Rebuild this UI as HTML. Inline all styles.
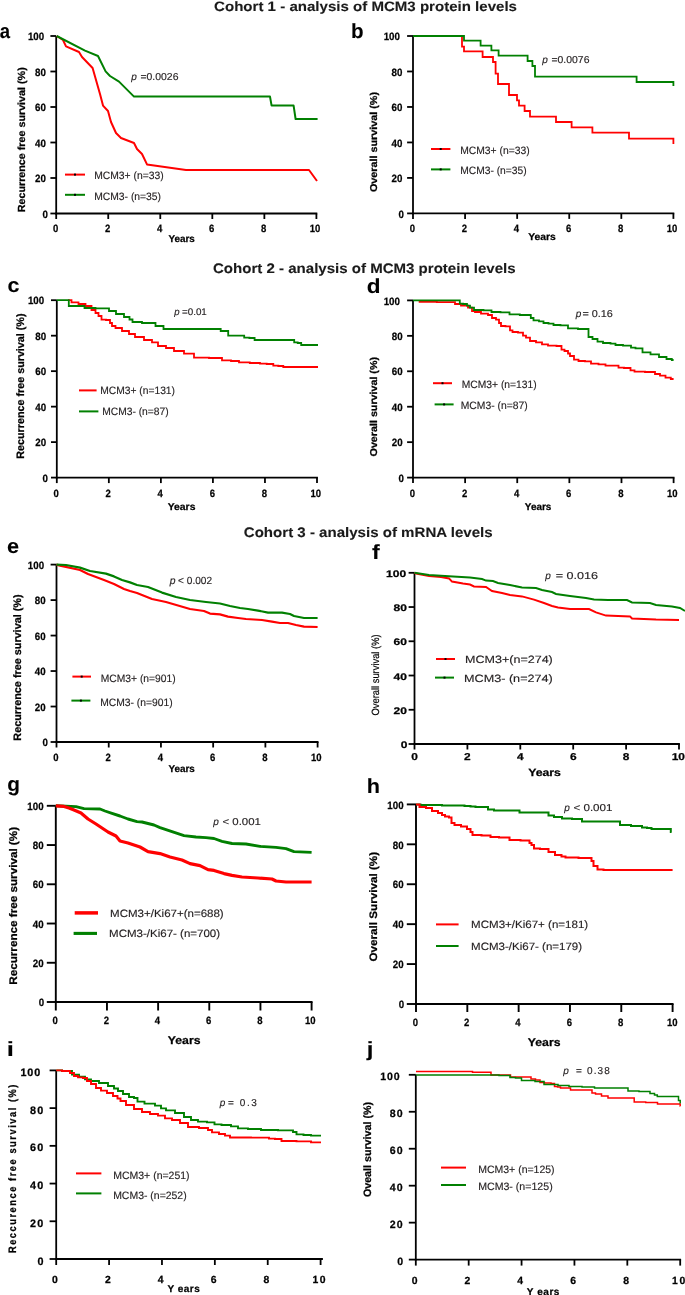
<!DOCTYPE html>
<html><head><meta charset="utf-8"><title>Figure</title>
<style>
html,body{margin:0;padding:0;background:#fff;}
svg{display:block;}
text{font-family:"Liberation Sans",sans-serif;text-rendering:geometricPrecision;}
.t{opacity:0.999;}
</style></head>
<body>
<svg width="685" height="1295" viewBox="0 0 685 1295">
<rect width="685" height="1295" fill="#fff"/>
<g class="t">
<text x="214.10" y="10.80" font-size="13.6" style="font-weight:bold;stroke:#1a1a1a;stroke-width:0.12px;" fill="#1a1a1a" textLength="302.91" lengthAdjust="spacingAndGlyphs">Cohort 1 - analysis of MCM3 protein levels</text>
<text x="213.00" y="273.00" font-size="13.8" style="font-weight:bold;stroke:#1a1a1a;stroke-width:0.12px;" fill="#1a1a1a" textLength="302.61" lengthAdjust="spacingAndGlyphs">Cohort 2 - analysis of MCM3 protein levels</text>
<text x="243.80" y="536.60" font-size="13.8" style="font-weight:bold;stroke:#1a1a1a;stroke-width:0.12px;" fill="#1a1a1a" textLength="248.85" lengthAdjust="spacingAndGlyphs">Cohort 3 - analysis of mRNA levels</text>
<text x="-0.26" y="37.90" font-size="20.5" style="font-weight:bold;stroke:#000;stroke-width:0.1px;" fill="#000" textLength="10.29" lengthAdjust="spacingAndGlyphs">a</text>
<text x="350.96" y="38.00" font-size="20.5" style="font-weight:bold;stroke:#000;stroke-width:0.1px;" fill="#000" textLength="12.58" lengthAdjust="spacingAndGlyphs">b</text>
<text x="7.44" y="291.70" font-size="20.5" style="font-weight:bold;stroke:#000;stroke-width:0.1px;" fill="#000" textLength="11.93" lengthAdjust="spacingAndGlyphs">c</text>
<text x="366.80" y="292.70" font-size="20.5" style="font-weight:bold;stroke:#000;stroke-width:0.1px;" fill="#000" textLength="13.79" lengthAdjust="spacingAndGlyphs">d</text>
<text x="7.03" y="553.30" font-size="20.5" style="font-weight:bold;stroke:#000;stroke-width:0.1px;" fill="#000" textLength="12.05" lengthAdjust="spacingAndGlyphs">e</text>
<text x="371.95" y="558.70" font-size="20.5" style="font-weight:bold;stroke:#000;stroke-width:0.1px;" fill="#000" textLength="7.70" lengthAdjust="spacingAndGlyphs">f</text>
<text x="7.37" y="791.00" font-size="20.5" style="font-weight:bold;stroke:#000;stroke-width:0.1px;" fill="#000" textLength="12.70" lengthAdjust="spacingAndGlyphs">g</text>
<text x="366.78" y="793.10" font-size="20.5" style="font-weight:bold;stroke:#000;stroke-width:0.1px;" fill="#000" textLength="13.24" lengthAdjust="spacingAndGlyphs">h</text>
<text x="6.80" y="1056.10" font-size="20.5" style="font-weight:bold;stroke:#000;stroke-width:0.1px;" fill="#000" textLength="7.14" lengthAdjust="spacingAndGlyphs">i</text>
<text x="366.66" y="1056.00" font-size="20.5" style="font-weight:bold;stroke:#000;stroke-width:0.1px;" fill="#000" textLength="6.67" lengthAdjust="spacingAndGlyphs">j</text>
<line x1="56.20" y1="36.00" x2="56.20" y2="214.40" stroke="#000" stroke-width="1.8" stroke-linecap="butt"/>
<line x1="55.30" y1="213.50" x2="317.30" y2="213.50" stroke="#000" stroke-width="1.8" stroke-linecap="butt"/>
<line x1="50.40" y1="213.50" x2="56.20" y2="213.50" stroke="#000" stroke-width="1.8" stroke-linecap="butt"/>
<line x1="50.40" y1="178.00" x2="56.20" y2="178.00" stroke="#000" stroke-width="1.8" stroke-linecap="butt"/>
<line x1="50.40" y1="142.50" x2="56.20" y2="142.50" stroke="#000" stroke-width="1.8" stroke-linecap="butt"/>
<line x1="50.40" y1="107.00" x2="56.20" y2="107.00" stroke="#000" stroke-width="1.8" stroke-linecap="butt"/>
<line x1="50.40" y1="71.50" x2="56.20" y2="71.50" stroke="#000" stroke-width="1.8" stroke-linecap="butt"/>
<line x1="50.40" y1="36.00" x2="56.20" y2="36.00" stroke="#000" stroke-width="1.8" stroke-linecap="butt"/>
<line x1="56.20" y1="213.50" x2="56.20" y2="219.00" stroke="#000" stroke-width="1.8" stroke-linecap="butt"/>
<line x1="108.24" y1="213.50" x2="108.24" y2="219.00" stroke="#000" stroke-width="1.8" stroke-linecap="butt"/>
<line x1="160.28" y1="213.50" x2="160.28" y2="219.00" stroke="#000" stroke-width="1.8" stroke-linecap="butt"/>
<line x1="212.32" y1="213.50" x2="212.32" y2="219.00" stroke="#000" stroke-width="1.8" stroke-linecap="butt"/>
<line x1="264.36" y1="213.50" x2="264.36" y2="219.00" stroke="#000" stroke-width="1.8" stroke-linecap="butt"/>
<line x1="316.40" y1="213.50" x2="316.40" y2="219.00" stroke="#000" stroke-width="1.8" stroke-linecap="butt"/>
<text x="42.38" y="217.70" font-size="10.6" style="font-weight:bold;stroke:#000;stroke-width:0.25px;" fill="#000" textLength="5.42" lengthAdjust="spacingAndGlyphs">0</text>
<text x="35.07" y="182.20" font-size="10.6" style="font-weight:bold;stroke:#000;stroke-width:0.25px;" fill="#000" textLength="10.85" lengthAdjust="spacingAndGlyphs">20</text>
<text x="35.07" y="146.70" font-size="10.6" style="font-weight:bold;stroke:#000;stroke-width:0.25px;" fill="#000" textLength="10.85" lengthAdjust="spacingAndGlyphs">40</text>
<text x="35.07" y="111.20" font-size="10.6" style="font-weight:bold;stroke:#000;stroke-width:0.25px;" fill="#000" textLength="10.85" lengthAdjust="spacingAndGlyphs">60</text>
<text x="35.07" y="75.70" font-size="10.6" style="font-weight:bold;stroke:#000;stroke-width:0.25px;" fill="#000" textLength="10.85" lengthAdjust="spacingAndGlyphs">80</text>
<text x="27.95" y="40.20" font-size="10.6" style="font-weight:bold;stroke:#000;stroke-width:0.25px;" fill="#000" textLength="16.27" lengthAdjust="spacingAndGlyphs">100</text>
<text x="52.95" y="232.40" font-size="10.6" style="font-weight:bold;stroke:#000;stroke-width:0.25px;" fill="#000" textLength="5.31" lengthAdjust="spacingAndGlyphs">0</text>
<text x="105.02" y="232.40" font-size="10.6" style="font-weight:bold;stroke:#000;stroke-width:0.25px;" fill="#000" textLength="5.31" lengthAdjust="spacingAndGlyphs">2</text>
<text x="156.98" y="232.40" font-size="10.6" style="font-weight:bold;stroke:#000;stroke-width:0.25px;" fill="#000" textLength="5.31" lengthAdjust="spacingAndGlyphs">4</text>
<text x="209.07" y="232.40" font-size="10.6" style="font-weight:bold;stroke:#000;stroke-width:0.25px;" fill="#000" textLength="5.31" lengthAdjust="spacingAndGlyphs">6</text>
<text x="261.11" y="232.40" font-size="10.6" style="font-weight:bold;stroke:#000;stroke-width:0.25px;" fill="#000" textLength="5.31" lengthAdjust="spacingAndGlyphs">8</text>
<text x="309.81" y="232.40" font-size="10.6" style="font-weight:bold;stroke:#000;stroke-width:0.25px;" fill="#000" textLength="10.61" lengthAdjust="spacingAndGlyphs">10</text>
<text x="168.40" y="241.60" font-size="10" style="font-weight:bold;stroke:#000;stroke-width:0.25px;" fill="#000" textLength="26.39" lengthAdjust="spacingAndGlyphs">Years</text>
<text transform="translate(25.00,211.60) rotate(-90)" x="-0.70" y="0" font-size="10.3" style="font-weight:bold;stroke:#000;stroke-width:0.25px;" fill="#000" textLength="145.00" lengthAdjust="spacingAndGlyphs">Recurrence free survival (%)</text>
<polyline points="56.70,36.00 63.00,40.00 66.00,46.40 79.00,52.00 82.00,57.00 92.60,68.00 100.00,94.00 103.00,105.60 108.00,111.00 111.00,122.00 116.00,133.00 121.00,138.00 134.00,143.00 137.00,149.00 142.00,154.00 147.00,164.40 186.00,170.00 309.00,170.00 317.00,181.00" fill="none" stroke="#ff0000" stroke-width="2.0" stroke-linejoin="round" stroke-linecap="butt"/>
<polyline points="56.70,36.00 85.00,50.60 98.00,56.00 105.60,71.40 110.00,76.00 119.00,81.60 134.00,96.60 270.00,96.60 271.60,105.60 293.60,105.60 295.60,119.00 317.60,119.00" fill="none" stroke="#008000" stroke-width="2.0" stroke-linejoin="round" stroke-linecap="butt"/>
<line x1="65.00" y1="174.60" x2="85.00" y2="174.60" stroke="#ff0000" stroke-width="2.0" stroke-linecap="butt"/>
<rect x="74.00" y="173.60" width="2.0" height="2.0" fill="#000"/>
<line x1="65.00" y1="194.80" x2="85.00" y2="194.80" stroke="#008000" stroke-width="2.0" stroke-linecap="butt"/>
<rect x="74.00" y="193.80" width="2.0" height="2.0" fill="#000"/>
<text x="94.17" y="179.20" font-size="10.7" style="stroke:#231f20;stroke-width:0.15px;" fill="#231f20" textLength="69.50" lengthAdjust="spacingAndGlyphs">MCM3+ (n=33)</text>
<text x="94.17" y="200.00" font-size="10.7" style="stroke:#231f20;stroke-width:0.15px;" fill="#231f20" textLength="66.89" lengthAdjust="spacingAndGlyphs">MCM3- (n=35)</text>
<text x="131.25" y="80.20" font-size="10" style="font-style:italic;stroke:#231f20;stroke-width:0.15px;" fill="#231f20" textLength="5.56" lengthAdjust="spacingAndGlyphs">p</text>
<text x="140.48" y="80.20" font-size="10" style="stroke:#231f20;stroke-width:0.15px;" fill="#231f20" textLength="37.97" lengthAdjust="spacingAndGlyphs">=0.0026</text>
<line x1="413.00" y1="36.00" x2="413.00" y2="214.30" stroke="#000" stroke-width="1.8" stroke-linecap="butt"/>
<line x1="412.10" y1="213.40" x2="674.30" y2="213.40" stroke="#000" stroke-width="1.8" stroke-linecap="butt"/>
<line x1="407.10" y1="213.40" x2="413.00" y2="213.40" stroke="#000" stroke-width="1.8" stroke-linecap="butt"/>
<line x1="407.10" y1="177.92" x2="413.00" y2="177.92" stroke="#000" stroke-width="1.8" stroke-linecap="butt"/>
<line x1="407.10" y1="142.44" x2="413.00" y2="142.44" stroke="#000" stroke-width="1.8" stroke-linecap="butt"/>
<line x1="407.10" y1="106.96" x2="413.00" y2="106.96" stroke="#000" stroke-width="1.8" stroke-linecap="butt"/>
<line x1="407.10" y1="71.48" x2="413.00" y2="71.48" stroke="#000" stroke-width="1.8" stroke-linecap="butt"/>
<line x1="407.10" y1="36.00" x2="413.00" y2="36.00" stroke="#000" stroke-width="1.8" stroke-linecap="butt"/>
<line x1="413.00" y1="213.40" x2="413.00" y2="218.90" stroke="#000" stroke-width="1.8" stroke-linecap="butt"/>
<line x1="465.08" y1="213.40" x2="465.08" y2="218.90" stroke="#000" stroke-width="1.8" stroke-linecap="butt"/>
<line x1="517.16" y1="213.40" x2="517.16" y2="218.90" stroke="#000" stroke-width="1.8" stroke-linecap="butt"/>
<line x1="569.24" y1="213.40" x2="569.24" y2="218.90" stroke="#000" stroke-width="1.8" stroke-linecap="butt"/>
<line x1="621.32" y1="213.40" x2="621.32" y2="218.90" stroke="#000" stroke-width="1.8" stroke-linecap="butt"/>
<line x1="673.40" y1="213.40" x2="673.40" y2="218.90" stroke="#000" stroke-width="1.8" stroke-linecap="butt"/>
<text x="398.48" y="217.60" font-size="10.6" style="font-weight:bold;stroke:#000;stroke-width:0.25px;" fill="#000" textLength="5.42" lengthAdjust="spacingAndGlyphs">0</text>
<text x="391.57" y="182.12" font-size="10.6" style="font-weight:bold;stroke:#000;stroke-width:0.25px;" fill="#000" textLength="10.85" lengthAdjust="spacingAndGlyphs">20</text>
<text x="391.57" y="146.64" font-size="10.6" style="font-weight:bold;stroke:#000;stroke-width:0.25px;" fill="#000" textLength="10.85" lengthAdjust="spacingAndGlyphs">40</text>
<text x="391.57" y="111.16" font-size="10.6" style="font-weight:bold;stroke:#000;stroke-width:0.25px;" fill="#000" textLength="10.85" lengthAdjust="spacingAndGlyphs">60</text>
<text x="391.57" y="75.68" font-size="10.6" style="font-weight:bold;stroke:#000;stroke-width:0.25px;" fill="#000" textLength="10.85" lengthAdjust="spacingAndGlyphs">80</text>
<text x="383.65" y="40.20" font-size="10.6" style="font-weight:bold;stroke:#000;stroke-width:0.25px;" fill="#000" textLength="16.27" lengthAdjust="spacingAndGlyphs">100</text>
<text x="409.75" y="232.40" font-size="10.6" style="font-weight:bold;stroke:#000;stroke-width:0.25px;" fill="#000" textLength="5.31" lengthAdjust="spacingAndGlyphs">0</text>
<text x="461.86" y="232.40" font-size="10.6" style="font-weight:bold;stroke:#000;stroke-width:0.25px;" fill="#000" textLength="5.31" lengthAdjust="spacingAndGlyphs">2</text>
<text x="513.86" y="232.40" font-size="10.6" style="font-weight:bold;stroke:#000;stroke-width:0.25px;" fill="#000" textLength="5.31" lengthAdjust="spacingAndGlyphs">4</text>
<text x="565.99" y="232.40" font-size="10.6" style="font-weight:bold;stroke:#000;stroke-width:0.25px;" fill="#000" textLength="5.31" lengthAdjust="spacingAndGlyphs">6</text>
<text x="618.07" y="232.40" font-size="10.6" style="font-weight:bold;stroke:#000;stroke-width:0.25px;" fill="#000" textLength="5.31" lengthAdjust="spacingAndGlyphs">8</text>
<text x="666.81" y="232.40" font-size="10.6" style="font-weight:bold;stroke:#000;stroke-width:0.25px;" fill="#000" textLength="10.61" lengthAdjust="spacingAndGlyphs">10</text>
<text x="528.19" y="240.00" font-size="10" style="font-weight:bold;stroke:#000;stroke-width:0.25px;" fill="#000" textLength="27.62" lengthAdjust="spacingAndGlyphs">Years</text>
<text transform="translate(376.90,191.60) rotate(-90)" x="-0.43" y="0" font-size="10" style="font-weight:bold;stroke:#000;stroke-width:0.25px;" fill="#000" textLength="100.04" lengthAdjust="spacingAndGlyphs">Overall survival (%)</text>
<polyline points="462.00,36.00 462.00,46.60 464.00,46.60 464.00,51.40 482.60,51.40 482.60,57.00 493.00,57.00 493.00,62.00 495.60,62.00 495.60,73.60 498.00,73.60 498.00,84.00 509.00,84.00 509.00,95.00 517.00,95.00 517.00,100.40 519.00,100.40 519.00,105.60 524.60,105.60 524.60,111.00 530.00,111.00 530.00,116.60 556.00,116.60 556.00,122.00 571.60,122.00 571.60,127.40 592.40,127.40 592.40,132.60 629.00,132.60 629.00,138.60 673.40,138.60 673.40,144.00" fill="none" stroke="#ff0000" stroke-width="1.8" stroke-linejoin="miter" stroke-linecap="butt"/>
<polyline points="413.00,36.00 464.00,36.00 464.00,40.60 480.60,40.60 480.60,45.60 491.40,45.60 491.40,50.40 498.60,50.40 498.60,55.60 527.60,55.60 527.60,61.00 532.40,61.00 532.40,66.00 535.00,66.00 535.00,76.60 636.60,76.60 636.60,82.00 673.40,82.00 673.40,86.00" fill="none" stroke="#008000" stroke-width="1.8" stroke-linejoin="miter" stroke-linecap="butt"/>
<line x1="431.00" y1="149.00" x2="450.40" y2="149.00" stroke="#ff0000" stroke-width="2.0" stroke-linecap="butt"/>
<rect x="439.70" y="148.00" width="2.0" height="2.0" fill="#000"/>
<line x1="431.00" y1="169.40" x2="450.40" y2="169.40" stroke="#008000" stroke-width="2.0" stroke-linecap="butt"/>
<rect x="439.70" y="168.40" width="2.0" height="2.0" fill="#000"/>
<text x="460.17" y="154.20" font-size="10.7" style="stroke:#231f20;stroke-width:0.15px;" fill="#231f20" textLength="69.50" lengthAdjust="spacingAndGlyphs">MCM3+ (n=33)</text>
<text x="460.18" y="174.40" font-size="10.7" style="stroke:#231f20;stroke-width:0.15px;" fill="#231f20" textLength="66.48" lengthAdjust="spacingAndGlyphs">MCM3- (n=35)</text>
<text x="542.25" y="63.00" font-size="10" style="font-style:italic;stroke:#231f20;stroke-width:0.15px;" fill="#231f20" textLength="5.56" lengthAdjust="spacingAndGlyphs">p</text>
<text x="551.48" y="63.00" font-size="10" style="stroke:#231f20;stroke-width:0.15px;" fill="#231f20" textLength="37.97" lengthAdjust="spacingAndGlyphs">=0.0076</text>
<line x1="56.80" y1="300.20" x2="56.80" y2="478.50" stroke="#000" stroke-width="1.8" stroke-linecap="butt"/>
<line x1="55.90" y1="477.60" x2="317.90" y2="477.60" stroke="#000" stroke-width="1.8" stroke-linecap="butt"/>
<line x1="51.00" y1="477.60" x2="56.80" y2="477.60" stroke="#000" stroke-width="1.8" stroke-linecap="butt"/>
<line x1="51.00" y1="442.12" x2="56.80" y2="442.12" stroke="#000" stroke-width="1.8" stroke-linecap="butt"/>
<line x1="51.00" y1="406.64" x2="56.80" y2="406.64" stroke="#000" stroke-width="1.8" stroke-linecap="butt"/>
<line x1="51.00" y1="371.16" x2="56.80" y2="371.16" stroke="#000" stroke-width="1.8" stroke-linecap="butt"/>
<line x1="51.00" y1="335.68" x2="56.80" y2="335.68" stroke="#000" stroke-width="1.8" stroke-linecap="butt"/>
<line x1="51.00" y1="300.20" x2="56.80" y2="300.20" stroke="#000" stroke-width="1.8" stroke-linecap="butt"/>
<line x1="56.80" y1="477.60" x2="56.80" y2="483.10" stroke="#000" stroke-width="1.8" stroke-linecap="butt"/>
<line x1="108.84" y1="477.60" x2="108.84" y2="483.10" stroke="#000" stroke-width="1.8" stroke-linecap="butt"/>
<line x1="160.88" y1="477.60" x2="160.88" y2="483.10" stroke="#000" stroke-width="1.8" stroke-linecap="butt"/>
<line x1="212.92" y1="477.60" x2="212.92" y2="483.10" stroke="#000" stroke-width="1.8" stroke-linecap="butt"/>
<line x1="264.96" y1="477.60" x2="264.96" y2="483.10" stroke="#000" stroke-width="1.8" stroke-linecap="butt"/>
<line x1="317.00" y1="477.60" x2="317.00" y2="483.10" stroke="#000" stroke-width="1.8" stroke-linecap="butt"/>
<text x="42.58" y="481.80" font-size="10.6" style="font-weight:bold;stroke:#000;stroke-width:0.25px;" fill="#000" textLength="5.42" lengthAdjust="spacingAndGlyphs">0</text>
<text x="35.37" y="446.32" font-size="10.6" style="font-weight:bold;stroke:#000;stroke-width:0.25px;" fill="#000" textLength="10.85" lengthAdjust="spacingAndGlyphs">20</text>
<text x="35.37" y="410.84" font-size="10.6" style="font-weight:bold;stroke:#000;stroke-width:0.25px;" fill="#000" textLength="10.85" lengthAdjust="spacingAndGlyphs">40</text>
<text x="35.37" y="375.36" font-size="10.6" style="font-weight:bold;stroke:#000;stroke-width:0.25px;" fill="#000" textLength="10.85" lengthAdjust="spacingAndGlyphs">60</text>
<text x="35.37" y="339.88" font-size="10.6" style="font-weight:bold;stroke:#000;stroke-width:0.25px;" fill="#000" textLength="10.85" lengthAdjust="spacingAndGlyphs">80</text>
<text x="27.95" y="304.40" font-size="10.6" style="font-weight:bold;stroke:#000;stroke-width:0.25px;" fill="#000" textLength="16.27" lengthAdjust="spacingAndGlyphs">100</text>
<text x="53.55" y="497.00" font-size="10.6" style="font-weight:bold;stroke:#000;stroke-width:0.25px;" fill="#000" textLength="5.31" lengthAdjust="spacingAndGlyphs">0</text>
<text x="105.62" y="497.00" font-size="10.6" style="font-weight:bold;stroke:#000;stroke-width:0.25px;" fill="#000" textLength="5.31" lengthAdjust="spacingAndGlyphs">2</text>
<text x="157.58" y="497.00" font-size="10.6" style="font-weight:bold;stroke:#000;stroke-width:0.25px;" fill="#000" textLength="5.31" lengthAdjust="spacingAndGlyphs">4</text>
<text x="209.67" y="497.00" font-size="10.6" style="font-weight:bold;stroke:#000;stroke-width:0.25px;" fill="#000" textLength="5.31" lengthAdjust="spacingAndGlyphs">6</text>
<text x="261.71" y="497.00" font-size="10.6" style="font-weight:bold;stroke:#000;stroke-width:0.25px;" fill="#000" textLength="5.31" lengthAdjust="spacingAndGlyphs">8</text>
<text x="310.41" y="497.00" font-size="10.6" style="font-weight:bold;stroke:#000;stroke-width:0.25px;" fill="#000" textLength="10.61" lengthAdjust="spacingAndGlyphs">10</text>
<text x="167.79" y="510.00" font-size="10" style="font-weight:bold;stroke:#000;stroke-width:0.25px;" fill="#000" textLength="27.62" lengthAdjust="spacingAndGlyphs">Years</text>
<text transform="translate(23.90,458.00) rotate(-90)" x="-0.70" y="0" font-size="10.8" style="font-weight:bold;stroke:#000;stroke-width:0.25px;" fill="#000" textLength="145.20" lengthAdjust="spacingAndGlyphs">Recurrence free survival (%)</text>
<polyline points="68.00,300.20 71.50,300.20 71.50,302.40 75.00,302.40 78.50,302.40 78.50,304.00 82.00,304.00 85.50,304.00 85.50,306.00 89.00,306.00 91.50,306.00 91.50,310.00 94.00,310.00 95.50,310.00 95.50,313.00 98.50,313.00 98.50,316.00 100.00,316.00 101.50,316.00 101.50,319.60 103.00,319.60 106.00,319.60 106.00,320.00 109.00,320.00 110.00,320.00 110.00,323.00 112.00,323.00 112.00,326.00 113.00,326.00 115.50,326.00 115.50,328.00 118.00,328.00 122.00,328.00 122.00,331.00 126.00,331.00 129.00,331.00 129.00,334.00 132.00,334.00 135.00,334.00 135.00,337.00 138.00,337.00 144.00,337.00 144.00,340.00 150.00,340.00 152.00,340.00 152.00,342.40 154.00,342.40 158.00,342.40 158.00,346.00 162.00,346.00 166.00,346.00 166.00,348.00 170.00,348.00 174.00,348.00 174.00,351.00 178.00,351.00 184.00,351.00 184.00,353.60 190.00,353.60 194.00,353.60 194.00,357.60 198.00,357.60 209.00,357.60 209.00,358.00 220.00,358.00 222.00,358.00 222.00,360.40 224.00,360.40 231.00,360.40 231.00,361.00 238.00,361.00 239.00,361.00 239.00,362.40 240.00,362.40 249.80,362.40 249.80,363.00 259.60,363.00 260.00,363.00 260.00,363.60 260.40,363.60 266.70,363.60 266.70,364.00 273.00,364.00 273.30,364.00 273.30,365.60 273.60,365.60 278.30,365.60 278.30,366.00 283.00,366.00 283.30,366.00 283.30,367.00 283.60,367.00 318.00,367.00" fill="none" stroke="#ff0000" stroke-width="1.8" stroke-linejoin="miter" stroke-linecap="butt"/>
<polyline points="56.80,300.20 68.00,300.20 68.80,300.20 68.80,306.00 69.60,306.00 84.00,306.00 84.50,306.00 84.50,308.00 85.00,308.00 95.50,308.00 95.50,308.40 106.00,308.40 109.00,308.40 109.00,311.00 112.00,311.00 116.00,311.00 116.00,314.00 120.00,314.00 124.00,314.00 124.00,317.00 128.00,317.00 129.50,317.00 129.50,319.50 132.50,319.50 132.50,322.00 134.00,322.00 142.00,322.00 142.00,323.00 150.00,323.00 155.50,323.00 155.50,326.00 161.00,326.00 163.50,326.00 163.50,329.00 166.00,329.00 220.40,329.00 220.70,329.00 220.70,331.00 221.00,331.00 228.00,331.00 228.20,331.00 228.20,335.60 228.40,335.60 244.00,335.60 244.20,335.60 244.20,337.60 244.40,337.60 249.40,337.60 249.40,338.00 254.40,338.00 254.60,338.00 254.60,340.00 254.80,340.00 294.00,340.00 294.20,340.00 294.20,342.40 294.40,342.40 297.70,342.40 297.70,343.00 301.00,343.00 301.20,343.00 301.20,345.00 301.40,345.00 318.00,345.00" fill="none" stroke="#008000" stroke-width="1.8" stroke-linejoin="miter" stroke-linecap="butt"/>
<line x1="79.00" y1="390.40" x2="96.60" y2="390.40" stroke="#ff0000" stroke-width="2.0" stroke-linecap="butt"/>
<line x1="79.00" y1="411.40" x2="98.40" y2="411.40" stroke="#008000" stroke-width="2.0" stroke-linecap="butt"/>
<text x="100.18" y="394.40" font-size="10.7" style="stroke:#231f20;stroke-width:0.15px;" fill="#231f20" textLength="74.85" lengthAdjust="spacingAndGlyphs">MCM3+ (n=131)</text>
<text x="102.18" y="415.40" font-size="10.7" style="stroke:#231f20;stroke-width:0.15px;" fill="#231f20" textLength="66.48" lengthAdjust="spacingAndGlyphs">MCM3- (n=87)</text>
<text x="174.24" y="315.00" font-size="9.6" style="font-style:italic;stroke:#231f20;stroke-width:0.15px;" fill="#231f20" textLength="5.34" lengthAdjust="spacingAndGlyphs">p</text>
<text x="181.91" y="315.00" font-size="9.6" style="stroke:#231f20;stroke-width:0.15px;" fill="#231f20" textLength="24.94" lengthAdjust="spacingAndGlyphs">=0.01</text>
<line x1="413.00" y1="300.40" x2="413.00" y2="478.50" stroke="#000" stroke-width="1.8" stroke-linecap="butt"/>
<line x1="412.10" y1="477.60" x2="674.50" y2="477.60" stroke="#000" stroke-width="1.8" stroke-linecap="butt"/>
<line x1="407.10" y1="477.60" x2="413.00" y2="477.60" stroke="#000" stroke-width="1.8" stroke-linecap="butt"/>
<line x1="407.10" y1="442.16" x2="413.00" y2="442.16" stroke="#000" stroke-width="1.8" stroke-linecap="butt"/>
<line x1="407.10" y1="406.72" x2="413.00" y2="406.72" stroke="#000" stroke-width="1.8" stroke-linecap="butt"/>
<line x1="407.10" y1="371.28" x2="413.00" y2="371.28" stroke="#000" stroke-width="1.8" stroke-linecap="butt"/>
<line x1="407.10" y1="335.84" x2="413.00" y2="335.84" stroke="#000" stroke-width="1.8" stroke-linecap="butt"/>
<line x1="407.10" y1="300.40" x2="413.00" y2="300.40" stroke="#000" stroke-width="1.8" stroke-linecap="butt"/>
<line x1="413.00" y1="477.60" x2="413.00" y2="483.10" stroke="#000" stroke-width="1.8" stroke-linecap="butt"/>
<line x1="465.12" y1="477.60" x2="465.12" y2="483.10" stroke="#000" stroke-width="1.8" stroke-linecap="butt"/>
<line x1="517.24" y1="477.60" x2="517.24" y2="483.10" stroke="#000" stroke-width="1.8" stroke-linecap="butt"/>
<line x1="569.36" y1="477.60" x2="569.36" y2="483.10" stroke="#000" stroke-width="1.8" stroke-linecap="butt"/>
<line x1="621.48" y1="477.60" x2="621.48" y2="483.10" stroke="#000" stroke-width="1.8" stroke-linecap="butt"/>
<line x1="673.60" y1="477.60" x2="673.60" y2="483.10" stroke="#000" stroke-width="1.8" stroke-linecap="butt"/>
<text x="398.48" y="481.80" font-size="10.6" style="font-weight:bold;stroke:#000;stroke-width:0.25px;" fill="#000" textLength="5.42" lengthAdjust="spacingAndGlyphs">0</text>
<text x="391.77" y="446.36" font-size="10.6" style="font-weight:bold;stroke:#000;stroke-width:0.25px;" fill="#000" textLength="10.85" lengthAdjust="spacingAndGlyphs">20</text>
<text x="391.77" y="410.92" font-size="10.6" style="font-weight:bold;stroke:#000;stroke-width:0.25px;" fill="#000" textLength="10.85" lengthAdjust="spacingAndGlyphs">40</text>
<text x="391.77" y="375.48" font-size="10.6" style="font-weight:bold;stroke:#000;stroke-width:0.25px;" fill="#000" textLength="10.85" lengthAdjust="spacingAndGlyphs">60</text>
<text x="391.77" y="340.04" font-size="10.6" style="font-weight:bold;stroke:#000;stroke-width:0.25px;" fill="#000" textLength="10.85" lengthAdjust="spacingAndGlyphs">80</text>
<text x="383.65" y="304.60" font-size="10.6" style="font-weight:bold;stroke:#000;stroke-width:0.25px;" fill="#000" textLength="16.27" lengthAdjust="spacingAndGlyphs">100</text>
<text x="409.75" y="496.60" font-size="10.6" style="font-weight:bold;stroke:#000;stroke-width:0.25px;" fill="#000" textLength="5.31" lengthAdjust="spacingAndGlyphs">0</text>
<text x="461.90" y="496.60" font-size="10.6" style="font-weight:bold;stroke:#000;stroke-width:0.25px;" fill="#000" textLength="5.31" lengthAdjust="spacingAndGlyphs">2</text>
<text x="513.94" y="496.60" font-size="10.6" style="font-weight:bold;stroke:#000;stroke-width:0.25px;" fill="#000" textLength="5.31" lengthAdjust="spacingAndGlyphs">4</text>
<text x="566.11" y="496.60" font-size="10.6" style="font-weight:bold;stroke:#000;stroke-width:0.25px;" fill="#000" textLength="5.31" lengthAdjust="spacingAndGlyphs">6</text>
<text x="618.23" y="496.60" font-size="10.6" style="font-weight:bold;stroke:#000;stroke-width:0.25px;" fill="#000" textLength="5.31" lengthAdjust="spacingAndGlyphs">8</text>
<text x="667.01" y="496.60" font-size="10.6" style="font-weight:bold;stroke:#000;stroke-width:0.25px;" fill="#000" textLength="10.61" lengthAdjust="spacingAndGlyphs">10</text>
<text x="524.80" y="510.00" font-size="10" style="font-weight:bold;stroke:#000;stroke-width:0.25px;" fill="#000" textLength="26.59" lengthAdjust="spacingAndGlyphs">Years</text>
<text transform="translate(377.00,456.00) rotate(-90)" x="-0.43" y="0" font-size="10" style="font-weight:bold;stroke:#000;stroke-width:0.25px;" fill="#000" textLength="99.43" lengthAdjust="spacingAndGlyphs">Overall survival (%)</text>
<polyline points="419.60,300.40 419.60,301.80 436.80,301.80 436.80,302.20 454.00,302.20 455.00,302.20 455.00,304.00 456.00,304.00 461.00,304.00 461.00,305.60 466.00,305.60 468.00,305.60 468.00,307.60 470.00,307.60 472.00,307.60 472.00,311.00 474.00,311.00 475.00,311.00 475.00,312.00 476.00,312.00 481.00,312.00 481.00,313.60 486.00,313.60 488.00,313.60 488.00,315.00 490.00,315.00 492.00,315.00 492.00,318.00 494.00,318.00 496.00,318.00 496.00,319.60 498.00,319.60 499.00,319.60 499.00,323.00 500.00,323.00 501.00,323.00 501.00,326.00 502.00,326.00 505.50,326.00 505.50,326.40 509.00,326.40 510.00,326.40 510.00,330.40 511.00,330.40 512.50,330.40 512.50,332.00 514.00,332.00 518.00,332.00 518.00,332.60 522.00,332.60 523.00,332.60 523.00,335.60 524.00,335.60 526.00,335.60 526.00,337.60 528.00,337.60 530.00,337.60 530.00,341.00 532.00,341.00 536.00,341.00 536.00,342.40 540.00,342.40 542.00,342.40 542.00,344.40 544.00,344.40 548.00,344.40 548.00,345.60 552.00,345.60 556.50,345.60 556.50,346.00 561.00,346.00 561.50,346.00 561.50,349.60 562.00,349.60 564.50,349.60 564.50,351.00 567.00,351.00 568.00,351.00 568.00,353.50 570.00,353.50 570.00,356.00 571.00,356.00 574.00,356.00 574.00,359.60 577.00,359.60 578.50,359.60 578.50,361.00 580.00,361.00 585.00,361.00 585.00,361.40 590.00,361.40 591.00,361.40 591.00,363.60 592.00,363.60 598.50,363.60 598.50,364.40 605.00,364.40 605.50,364.40 605.50,365.60 606.00,365.60 618.00,365.60 618.50,365.60 618.50,367.60 619.00,367.60 624.00,367.60 624.00,368.00 629.00,368.00 630.50,368.00 630.50,370.40 632.00,370.40 634.50,370.40 634.50,371.60 637.00,371.60 645.00,371.60 645.00,372.00 653.00,372.00 655.00,372.00 655.00,374.00 657.00,374.00 660.00,374.00 660.00,375.60 663.00,375.60 665.50,375.60 665.50,377.60 668.00,377.60 670.80,377.60 670.80,379.00 673.60,379.00" fill="none" stroke="#ff0000" stroke-width="1.8" stroke-linejoin="miter" stroke-linecap="butt"/>
<polyline points="413.00,300.40 459.60,300.40 459.80,300.40 459.80,303.60 460.00,303.60 463.00,303.60 463.00,304.00 466.00,304.00 467.00,304.00 467.00,305.60 468.00,305.60 470.00,305.60 470.00,307.60 472.00,307.60 474.00,307.60 474.00,310.00 476.00,310.00 483.50,310.00 483.50,310.40 491.00,310.40 491.50,310.40 491.50,312.00 492.00,312.00 500.50,312.00 500.50,312.40 509.00,312.40 509.50,312.40 509.50,314.40 510.00,314.40 519.80,314.40 519.80,315.00 529.60,315.00 530.80,315.00 530.80,318.00 532.00,318.00 533.50,318.00 533.50,320.40 535.00,320.40 539.00,320.40 539.00,321.40 543.00,321.40 543.50,321.40 543.50,323.00 544.00,323.00 548.50,323.00 548.50,323.60 553.00,323.60 553.50,323.60 553.50,325.00 554.00,325.00 560.50,325.00 560.50,325.40 567.00,325.40 568.00,325.40 568.00,328.40 569.00,328.40 578.00,328.40 578.00,329.00 587.00,329.00 588.50,329.00 588.50,337.00 590.00,337.00 592.50,337.00 592.50,339.00 595.00,339.00 597.50,339.00 597.50,341.60 600.00,341.60 603.00,341.60 603.00,343.00 606.00,343.00 610.50,343.00 610.50,343.60 615.00,343.60 615.50,343.60 615.50,345.00 616.00,345.00 623.00,345.00 623.00,345.60 630.00,345.60 631.00,345.60 631.00,347.60 632.00,347.60 635.50,347.60 635.50,348.40 639.00,348.40 642.50,348.40 642.50,352.40 646.00,352.40 650.50,352.40 650.50,354.40 655.00,354.40 659.00,354.40 659.00,357.00 663.00,357.00 666.50,357.00 666.50,359.00 670.00,359.00 671.80,359.00 671.80,360.00 673.60,360.00" fill="none" stroke="#008000" stroke-width="1.8" stroke-linejoin="miter" stroke-linecap="butt"/>
<line x1="433.00" y1="383.20" x2="452.00" y2="383.20" stroke="#ff0000" stroke-width="2.0" stroke-linecap="butt"/>
<rect x="441.50" y="382.20" width="2.0" height="2.0" fill="#000"/>
<line x1="434.60" y1="404.40" x2="453.60" y2="404.40" stroke="#008000" stroke-width="2.0" stroke-linecap="butt"/>
<rect x="443.10" y="403.40" width="2.0" height="2.0" fill="#000"/>
<text x="461.78" y="388.00" font-size="10.7" style="stroke:#231f20;stroke-width:0.15px;" fill="#231f20" textLength="74.85" lengthAdjust="spacingAndGlyphs">MCM3+ (n=131)</text>
<text x="460.77" y="409.40" font-size="10.7" style="stroke:#231f20;stroke-width:0.15px;" fill="#231f20" textLength="66.89" lengthAdjust="spacingAndGlyphs">MCM3- (n=87)</text>
<text x="575.85" y="316.60" font-size="10" style="font-style:italic;stroke:#231f20;stroke-width:0.15px;" fill="#231f20" textLength="5.56" lengthAdjust="spacingAndGlyphs">p</text>
<text x="582.46" y="316.60" font-size="10" style="stroke:#231f20;stroke-width:0.15px;" fill="#231f20" textLength="30.41" lengthAdjust="spacingAndGlyphs">= 0.16</text>
<line x1="56.50" y1="564.60" x2="56.50" y2="742.90" stroke="#000" stroke-width="1.8" stroke-linecap="butt"/>
<line x1="55.60" y1="742.00" x2="318.50" y2="742.00" stroke="#000" stroke-width="1.8" stroke-linecap="butt"/>
<line x1="50.60" y1="742.00" x2="56.50" y2="742.00" stroke="#000" stroke-width="1.8" stroke-linecap="butt"/>
<line x1="50.60" y1="706.52" x2="56.50" y2="706.52" stroke="#000" stroke-width="1.8" stroke-linecap="butt"/>
<line x1="50.60" y1="671.04" x2="56.50" y2="671.04" stroke="#000" stroke-width="1.8" stroke-linecap="butt"/>
<line x1="50.60" y1="635.56" x2="56.50" y2="635.56" stroke="#000" stroke-width="1.8" stroke-linecap="butt"/>
<line x1="50.60" y1="600.08" x2="56.50" y2="600.08" stroke="#000" stroke-width="1.8" stroke-linecap="butt"/>
<line x1="50.60" y1="564.60" x2="56.50" y2="564.60" stroke="#000" stroke-width="1.8" stroke-linecap="butt"/>
<line x1="56.50" y1="742.00" x2="56.50" y2="747.50" stroke="#000" stroke-width="1.8" stroke-linecap="butt"/>
<line x1="108.72" y1="742.00" x2="108.72" y2="747.50" stroke="#000" stroke-width="1.8" stroke-linecap="butt"/>
<line x1="160.94" y1="742.00" x2="160.94" y2="747.50" stroke="#000" stroke-width="1.8" stroke-linecap="butt"/>
<line x1="213.16" y1="742.00" x2="213.16" y2="747.50" stroke="#000" stroke-width="1.8" stroke-linecap="butt"/>
<line x1="265.38" y1="742.00" x2="265.38" y2="747.50" stroke="#000" stroke-width="1.8" stroke-linecap="butt"/>
<line x1="317.60" y1="742.00" x2="317.60" y2="747.50" stroke="#000" stroke-width="1.8" stroke-linecap="butt"/>
<text x="42.38" y="746.20" font-size="10.6" style="font-weight:bold;stroke:#000;stroke-width:0.25px;" fill="#000" textLength="5.42" lengthAdjust="spacingAndGlyphs">0</text>
<text x="34.77" y="710.72" font-size="10.6" style="font-weight:bold;stroke:#000;stroke-width:0.25px;" fill="#000" textLength="10.85" lengthAdjust="spacingAndGlyphs">20</text>
<text x="34.77" y="675.24" font-size="10.6" style="font-weight:bold;stroke:#000;stroke-width:0.25px;" fill="#000" textLength="10.85" lengthAdjust="spacingAndGlyphs">40</text>
<text x="34.77" y="639.76" font-size="10.6" style="font-weight:bold;stroke:#000;stroke-width:0.25px;" fill="#000" textLength="10.85" lengthAdjust="spacingAndGlyphs">60</text>
<text x="34.77" y="604.28" font-size="10.6" style="font-weight:bold;stroke:#000;stroke-width:0.25px;" fill="#000" textLength="10.85" lengthAdjust="spacingAndGlyphs">80</text>
<text x="27.85" y="568.80" font-size="10.6" style="font-weight:bold;stroke:#000;stroke-width:0.25px;" fill="#000" textLength="16.27" lengthAdjust="spacingAndGlyphs">100</text>
<text x="53.25" y="761.00" font-size="10.6" style="font-weight:bold;stroke:#000;stroke-width:0.25px;" fill="#000" textLength="5.31" lengthAdjust="spacingAndGlyphs">0</text>
<text x="105.50" y="761.00" font-size="10.6" style="font-weight:bold;stroke:#000;stroke-width:0.25px;" fill="#000" textLength="5.31" lengthAdjust="spacingAndGlyphs">2</text>
<text x="157.64" y="761.00" font-size="10.6" style="font-weight:bold;stroke:#000;stroke-width:0.25px;" fill="#000" textLength="5.31" lengthAdjust="spacingAndGlyphs">4</text>
<text x="209.91" y="761.00" font-size="10.6" style="font-weight:bold;stroke:#000;stroke-width:0.25px;" fill="#000" textLength="5.31" lengthAdjust="spacingAndGlyphs">6</text>
<text x="262.13" y="761.00" font-size="10.6" style="font-weight:bold;stroke:#000;stroke-width:0.25px;" fill="#000" textLength="5.31" lengthAdjust="spacingAndGlyphs">8</text>
<text x="311.01" y="761.00" font-size="10.6" style="font-weight:bold;stroke:#000;stroke-width:0.25px;" fill="#000" textLength="10.61" lengthAdjust="spacingAndGlyphs">10</text>
<text x="168.40" y="771.60" font-size="10" style="font-weight:bold;stroke:#000;stroke-width:0.25px;" fill="#000" textLength="26.39" lengthAdjust="spacingAndGlyphs">Years</text>
<text transform="translate(20.80,740.00) rotate(-90)" x="-0.70" y="0" font-size="10.8" style="font-weight:bold;stroke:#000;stroke-width:0.25px;" fill="#000" textLength="146.21" lengthAdjust="spacingAndGlyphs">Recurrence free survival (%)</text>
<polyline points="56.50,564.60 60.00,565.60 80.00,570.00 88.00,574.00 104.00,580.00 114.00,584.00 124.00,589.00 130.00,591.00 137.00,593.00 152.00,599.00 166.00,602.00 190.00,609.00 204.00,611.00 210.00,613.60 220.00,614.40 228.00,616.60 238.00,618.00 246.00,619.00 262.00,620.00 272.00,621.60 280.00,623.00 288.00,623.00 296.00,625.00 304.00,626.60 317.60,627.00" fill="none" stroke="#ff0000" stroke-width="2.2" stroke-linejoin="round" stroke-linecap="butt"/>
<polyline points="56.50,564.60 66.00,565.00 80.00,567.60 90.00,571.00 106.00,573.60 114.00,576.40 122.00,580.00 130.00,582.40 137.00,585.00 148.00,587.00 162.00,592.60 176.00,597.00 190.00,600.00 206.00,602.00 220.00,603.50 230.00,606.00 240.00,608.00 248.00,609.00 258.00,610.60 268.00,612.60 282.00,612.60 290.00,614.00 294.00,616.00 304.00,618.00 317.60,618.00" fill="none" stroke="#008000" stroke-width="2.2" stroke-linejoin="round" stroke-linecap="butt"/>
<line x1="72.40" y1="676.60" x2="91.00" y2="676.60" stroke="#ff0000" stroke-width="2.0" stroke-linecap="butt"/>
<rect x="80.70" y="675.60" width="2.0" height="2.0" fill="#000"/>
<line x1="71.40" y1="700.60" x2="90.40" y2="700.60" stroke="#008000" stroke-width="2.0" stroke-linecap="butt"/>
<rect x="79.90" y="699.60" width="2.0" height="2.0" fill="#000"/>
<text x="100.78" y="682.00" font-size="10.7" style="stroke:#231f20;stroke-width:0.15px;" fill="#231f20" textLength="74.85" lengthAdjust="spacingAndGlyphs">MCM3+ (n=901)</text>
<text x="100.18" y="705.60" font-size="10.7" style="stroke:#231f20;stroke-width:0.15px;" fill="#231f20" textLength="72.50" lengthAdjust="spacingAndGlyphs">MCM3- (n=901)</text>
<text x="169.86" y="584.00" font-size="10.4" style="font-style:italic;stroke:#231f20;stroke-width:0.15px;" fill="#231f20" textLength="5.78" lengthAdjust="spacingAndGlyphs">p</text>
<text x="178.09" y="584.00" font-size="10.4" style="stroke:#231f20;stroke-width:0.15px;" fill="#231f20" textLength="34.00" lengthAdjust="spacingAndGlyphs">&lt; 0.002</text>
<line x1="414.50" y1="572.80" x2="414.50" y2="744.90" stroke="#000" stroke-width="1.8" stroke-linecap="butt"/>
<line x1="413.60" y1="744.00" x2="679.90" y2="744.00" stroke="#000" stroke-width="1.8" stroke-linecap="butt"/>
<line x1="408.60" y1="744.00" x2="414.50" y2="744.00" stroke="#000" stroke-width="1.8" stroke-linecap="butt"/>
<line x1="408.60" y1="709.76" x2="414.50" y2="709.76" stroke="#000" stroke-width="1.8" stroke-linecap="butt"/>
<line x1="408.60" y1="675.52" x2="414.50" y2="675.52" stroke="#000" stroke-width="1.8" stroke-linecap="butt"/>
<line x1="408.60" y1="641.28" x2="414.50" y2="641.28" stroke="#000" stroke-width="1.8" stroke-linecap="butt"/>
<line x1="408.60" y1="607.04" x2="414.50" y2="607.04" stroke="#000" stroke-width="1.8" stroke-linecap="butt"/>
<line x1="408.60" y1="572.80" x2="414.50" y2="572.80" stroke="#000" stroke-width="1.8" stroke-linecap="butt"/>
<line x1="414.50" y1="744.00" x2="414.50" y2="749.50" stroke="#000" stroke-width="1.8" stroke-linecap="butt"/>
<line x1="467.40" y1="744.00" x2="467.40" y2="749.50" stroke="#000" stroke-width="1.8" stroke-linecap="butt"/>
<line x1="520.30" y1="744.00" x2="520.30" y2="749.50" stroke="#000" stroke-width="1.8" stroke-linecap="butt"/>
<line x1="573.20" y1="744.00" x2="573.20" y2="749.50" stroke="#000" stroke-width="1.8" stroke-linecap="butt"/>
<line x1="626.10" y1="744.00" x2="626.10" y2="749.50" stroke="#000" stroke-width="1.8" stroke-linecap="butt"/>
<line x1="679.00" y1="744.00" x2="679.00" y2="749.50" stroke="#000" stroke-width="1.8" stroke-linecap="butt"/>
<text x="400.89" y="748.20" font-size="9.5" style="font-weight:bold;stroke:#000;stroke-width:0.25px;" fill="#000" textLength="6.71" lengthAdjust="spacingAndGlyphs">0</text>
<text x="393.49" y="713.96" font-size="9.5" style="font-weight:bold;stroke:#000;stroke-width:0.25px;" fill="#000" textLength="13.42" lengthAdjust="spacingAndGlyphs">20</text>
<text x="393.49" y="679.72" font-size="9.5" style="font-weight:bold;stroke:#000;stroke-width:0.25px;" fill="#000" textLength="13.42" lengthAdjust="spacingAndGlyphs">40</text>
<text x="393.49" y="645.48" font-size="9.5" style="font-weight:bold;stroke:#000;stroke-width:0.25px;" fill="#000" textLength="13.42" lengthAdjust="spacingAndGlyphs">60</text>
<text x="393.49" y="611.24" font-size="9.5" style="font-weight:bold;stroke:#000;stroke-width:0.25px;" fill="#000" textLength="13.42" lengthAdjust="spacingAndGlyphs">80</text>
<text x="386.09" y="577.00" font-size="9.5" style="font-weight:bold;stroke:#000;stroke-width:0.25px;" fill="#000" textLength="20.13" lengthAdjust="spacingAndGlyphs">100</text>
<text x="411.20" y="760.40" font-size="10" style="font-weight:bold;stroke:#000;stroke-width:0.25px;" fill="#000" textLength="6.62" lengthAdjust="spacingAndGlyphs">0</text>
<text x="464.13" y="760.40" font-size="10" style="font-weight:bold;stroke:#000;stroke-width:0.25px;" fill="#000" textLength="6.62" lengthAdjust="spacingAndGlyphs">2</text>
<text x="516.94" y="760.40" font-size="10" style="font-weight:bold;stroke:#000;stroke-width:0.25px;" fill="#000" textLength="6.62" lengthAdjust="spacingAndGlyphs">4</text>
<text x="569.90" y="760.40" font-size="10" style="font-weight:bold;stroke:#000;stroke-width:0.25px;" fill="#000" textLength="6.62" lengthAdjust="spacingAndGlyphs">6</text>
<text x="622.80" y="760.40" font-size="10" style="font-weight:bold;stroke:#000;stroke-width:0.25px;" fill="#000" textLength="6.62" lengthAdjust="spacingAndGlyphs">8</text>
<text x="671.68" y="760.40" font-size="10" style="font-weight:bold;stroke:#000;stroke-width:0.25px;" fill="#000" textLength="13.24" lengthAdjust="spacingAndGlyphs">10</text>
<text x="528.15" y="776.40" font-size="10.5" style="font-weight:bold;stroke:#000;stroke-width:0.25px;" fill="#000" textLength="32.73" lengthAdjust="spacingAndGlyphs">Years</text>
<text transform="translate(378.50,715.10) rotate(-90)" x="-0.42" y="0" font-size="10.5" style="stroke:#000;stroke-width:0.2px;" fill="#000" textLength="81.11" lengthAdjust="spacingAndGlyphs">Overall survival (%)</text>
<polyline points="414.50,572.80 416.00,573.60 429.00,576.00 441.00,577.00 449.00,578.40 452.00,581.60 463.00,583.60 470.00,584.50 474.00,586.40 486.00,587.00 492.00,591.00 502.00,593.00 510.00,595.00 522.00,596.40 534.00,599.60 544.00,603.00 552.00,606.00 558.00,607.40 570.00,609.00 589.00,609.00 596.00,612.40 606.00,615.60 630.00,616.40 632.00,618.40 656.00,619.60 679.00,620.00" fill="none" stroke="#ff0000" stroke-width="2.0" stroke-linejoin="miter" stroke-linecap="butt"/>
<polyline points="414.50,572.80 429.00,575.00 453.00,576.40 470.00,577.60 482.00,579.00 486.00,580.60 493.00,581.00 498.00,583.00 510.00,585.00 522.00,587.60 536.00,588.00 542.00,590.00 552.00,592.00 556.00,594.00 570.00,596.00 586.00,598.00 594.00,599.60 608.00,600.00 627.00,600.00 632.00,602.40 650.00,603.00 656.00,605.00 672.00,606.40 680.00,608.00 685.00,611.00" fill="none" stroke="#008000" stroke-width="2.0" stroke-linejoin="miter" stroke-linecap="butt"/>
<line x1="436.00" y1="659.00" x2="455.00" y2="659.00" stroke="#ff0000" stroke-width="2.0" stroke-linecap="butt"/>
<rect x="444.50" y="658.00" width="2.0" height="2.0" fill="#000"/>
<line x1="435.00" y1="677.60" x2="454.00" y2="677.60" stroke="#008000" stroke-width="2.0" stroke-linecap="butt"/>
<rect x="443.50" y="676.60" width="2.0" height="2.0" fill="#000"/>
<text x="465.00" y="663.00" font-size="10.6" style="stroke:#231f20;stroke-width:0.15px;" fill="#231f20" textLength="87.80" lengthAdjust="spacingAndGlyphs">MCM3+(n=274)</text>
<text x="463.99" y="682.00" font-size="10.6" style="stroke:#231f20;stroke-width:0.15px;" fill="#231f20" textLength="88.83" lengthAdjust="spacingAndGlyphs">MCM3- (n=274)</text>
<text x="545.25" y="579.00" font-size="10" style="font-style:italic;stroke:#231f20;stroke-width:0.15px;" fill="#231f20" textLength="5.56" lengthAdjust="spacingAndGlyphs">p</text>
<text x="555.77" y="579.00" font-size="10" style="stroke:#231f20;stroke-width:0.15px;" fill="#231f20" textLength="42.32" lengthAdjust="spacingAndGlyphs">= 0.016</text>
<line x1="55.80" y1="805.80" x2="55.80" y2="1002.95" stroke="#000" stroke-width="1.9" stroke-linecap="butt"/>
<line x1="54.85" y1="1002.00" x2="312.55" y2="1002.00" stroke="#000" stroke-width="1.9" stroke-linecap="butt"/>
<line x1="46.80" y1="1002.00" x2="55.80" y2="1002.00" stroke="#000" stroke-width="1.9" stroke-linecap="butt"/>
<line x1="46.80" y1="962.76" x2="55.80" y2="962.76" stroke="#000" stroke-width="1.9" stroke-linecap="butt"/>
<line x1="46.80" y1="923.52" x2="55.80" y2="923.52" stroke="#000" stroke-width="1.9" stroke-linecap="butt"/>
<line x1="46.80" y1="884.28" x2="55.80" y2="884.28" stroke="#000" stroke-width="1.9" stroke-linecap="butt"/>
<line x1="46.80" y1="845.04" x2="55.80" y2="845.04" stroke="#000" stroke-width="1.9" stroke-linecap="butt"/>
<line x1="46.80" y1="805.80" x2="55.80" y2="805.80" stroke="#000" stroke-width="1.9" stroke-linecap="butt"/>
<line x1="55.80" y1="1002.00" x2="55.80" y2="1010.50" stroke="#000" stroke-width="1.9" stroke-linecap="butt"/>
<line x1="106.96" y1="1002.00" x2="106.96" y2="1010.50" stroke="#000" stroke-width="1.9" stroke-linecap="butt"/>
<line x1="158.12" y1="1002.00" x2="158.12" y2="1010.50" stroke="#000" stroke-width="1.9" stroke-linecap="butt"/>
<line x1="209.28" y1="1002.00" x2="209.28" y2="1010.50" stroke="#000" stroke-width="1.9" stroke-linecap="butt"/>
<line x1="260.44" y1="1002.00" x2="260.44" y2="1010.50" stroke="#000" stroke-width="1.9" stroke-linecap="butt"/>
<line x1="311.60" y1="1002.00" x2="311.60" y2="1010.50" stroke="#000" stroke-width="1.9" stroke-linecap="butt"/>
<text x="38.68" y="1006.20" font-size="10.6" style="font-weight:bold;stroke:#000;stroke-width:0.25px;" fill="#000" textLength="5.42" lengthAdjust="spacingAndGlyphs">0</text>
<text x="32.77" y="966.96" font-size="10.6" style="font-weight:bold;stroke:#000;stroke-width:0.25px;" fill="#000" textLength="10.85" lengthAdjust="spacingAndGlyphs">20</text>
<text x="32.77" y="927.72" font-size="10.6" style="font-weight:bold;stroke:#000;stroke-width:0.25px;" fill="#000" textLength="10.85" lengthAdjust="spacingAndGlyphs">40</text>
<text x="32.77" y="888.48" font-size="10.6" style="font-weight:bold;stroke:#000;stroke-width:0.25px;" fill="#000" textLength="10.85" lengthAdjust="spacingAndGlyphs">60</text>
<text x="32.77" y="849.24" font-size="10.6" style="font-weight:bold;stroke:#000;stroke-width:0.25px;" fill="#000" textLength="10.85" lengthAdjust="spacingAndGlyphs">80</text>
<text x="27.35" y="810.00" font-size="10.6" style="font-weight:bold;stroke:#000;stroke-width:0.25px;" fill="#000" textLength="16.27" lengthAdjust="spacingAndGlyphs">100</text>
<text x="52.55" y="1023.60" font-size="10.6" style="font-weight:bold;stroke:#000;stroke-width:0.25px;" fill="#000" textLength="5.31" lengthAdjust="spacingAndGlyphs">0</text>
<text x="103.74" y="1023.60" font-size="10.6" style="font-weight:bold;stroke:#000;stroke-width:0.25px;" fill="#000" textLength="5.31" lengthAdjust="spacingAndGlyphs">2</text>
<text x="154.82" y="1023.60" font-size="10.6" style="font-weight:bold;stroke:#000;stroke-width:0.25px;" fill="#000" textLength="5.31" lengthAdjust="spacingAndGlyphs">4</text>
<text x="206.03" y="1023.60" font-size="10.6" style="font-weight:bold;stroke:#000;stroke-width:0.25px;" fill="#000" textLength="5.31" lengthAdjust="spacingAndGlyphs">6</text>
<text x="257.19" y="1023.60" font-size="10.6" style="font-weight:bold;stroke:#000;stroke-width:0.25px;" fill="#000" textLength="5.31" lengthAdjust="spacingAndGlyphs">8</text>
<text x="305.01" y="1023.60" font-size="10.6" style="font-weight:bold;stroke:#000;stroke-width:0.25px;" fill="#000" textLength="10.61" lengthAdjust="spacingAndGlyphs">10</text>
<text x="167.75" y="1044.00" font-size="11.2" style="font-weight:bold;stroke:#000;stroke-width:0.25px;" fill="#000" textLength="32.73" lengthAdjust="spacingAndGlyphs">Years</text>
<text transform="translate(16.70,984.00) rotate(-90)" x="-0.76" y="0" font-size="11.0" style="font-weight:bold;stroke:#000;stroke-width:0.25px;" fill="#000" textLength="157.80" lengthAdjust="spacingAndGlyphs">Recurrence free survival (%)</text>
<polyline points="55.80,805.80 76.00,806.60 84.00,808.60 100.00,809.00 105.00,811.00 112.00,813.40 120.00,816.00 128.00,819.00 137.00,821.60 142.00,822.00 154.00,825.00 160.00,827.60 172.00,831.60 184.00,835.60 196.00,837.00 206.00,837.60 214.00,838.50 222.00,841.30 232.00,843.50 246.00,844.00 260.00,846.40 276.00,847.40 286.00,848.60 294.00,851.60 311.60,852.40" fill="none" stroke="#008000" stroke-width="2.9" stroke-linejoin="round" stroke-linecap="butt"/>
<polyline points="55.80,805.80 64.00,806.40 69.00,808.00 74.00,810.00 81.00,813.00 88.00,819.00 96.00,824.00 102.00,828.00 108.00,832.00 116.00,836.00 120.00,841.00 128.00,843.00 137.00,846.00 140.00,847.00 148.00,851.60 160.00,853.60 170.00,857.00 182.00,860.00 190.00,863.60 200.00,865.60 208.00,869.60 214.00,870.40 224.00,873.60 232.00,875.40 242.00,877.00 258.00,878.00 272.00,879.00 276.00,881.00 286.00,882.00 311.60,882.00" fill="none" stroke="#ff0000" stroke-width="3.2" stroke-linejoin="round" stroke-linecap="butt"/>
<line x1="74.70" y1="912.90" x2="98.00" y2="912.90" stroke="#ff0000" stroke-width="3.5" stroke-linecap="butt"/>
<line x1="73.60" y1="933.40" x2="97.00" y2="933.40" stroke="#008000" stroke-width="3.1" stroke-linecap="butt"/>
<text x="110.08" y="916.70" font-size="10.6" style="stroke:#231f20;stroke-width:0.15px;" fill="#231f20" textLength="113.63" lengthAdjust="spacingAndGlyphs">MCM3+/Ki67+(n=688)</text>
<text x="109.08" y="937.30" font-size="10.6" style="stroke:#231f20;stroke-width:0.15px;" fill="#231f20" textLength="111.04" lengthAdjust="spacingAndGlyphs">MCM3-/Ki67- (n=700)</text>
<text x="213.25" y="825.00" font-size="10" style="font-style:italic;stroke:#231f20;stroke-width:0.15px;" fill="#231f20" textLength="5.56" lengthAdjust="spacingAndGlyphs">p</text>
<text x="222.43" y="825.00" font-size="10" style="stroke:#231f20;stroke-width:0.15px;" fill="#231f20" textLength="38.48" lengthAdjust="spacingAndGlyphs">&lt; 0.001</text>
<line x1="416.00" y1="804.40" x2="416.00" y2="1004.95" stroke="#000" stroke-width="1.9" stroke-linecap="butt"/>
<line x1="415.05" y1="1004.00" x2="673.55" y2="1004.00" stroke="#000" stroke-width="1.9" stroke-linecap="butt"/>
<line x1="406.80" y1="1004.00" x2="416.00" y2="1004.00" stroke="#000" stroke-width="1.9" stroke-linecap="butt"/>
<line x1="406.80" y1="964.08" x2="416.00" y2="964.08" stroke="#000" stroke-width="1.9" stroke-linecap="butt"/>
<line x1="406.80" y1="924.16" x2="416.00" y2="924.16" stroke="#000" stroke-width="1.9" stroke-linecap="butt"/>
<line x1="406.80" y1="884.24" x2="416.00" y2="884.24" stroke="#000" stroke-width="1.9" stroke-linecap="butt"/>
<line x1="406.80" y1="844.32" x2="416.00" y2="844.32" stroke="#000" stroke-width="1.9" stroke-linecap="butt"/>
<line x1="406.80" y1="804.40" x2="416.00" y2="804.40" stroke="#000" stroke-width="1.9" stroke-linecap="butt"/>
<line x1="416.00" y1="1004.00" x2="416.00" y2="1012.00" stroke="#000" stroke-width="1.9" stroke-linecap="butt"/>
<line x1="467.32" y1="1004.00" x2="467.32" y2="1012.00" stroke="#000" stroke-width="1.9" stroke-linecap="butt"/>
<line x1="518.64" y1="1004.00" x2="518.64" y2="1012.00" stroke="#000" stroke-width="1.9" stroke-linecap="butt"/>
<line x1="569.96" y1="1004.00" x2="569.96" y2="1012.00" stroke="#000" stroke-width="1.9" stroke-linecap="butt"/>
<line x1="621.28" y1="1004.00" x2="621.28" y2="1012.00" stroke="#000" stroke-width="1.9" stroke-linecap="butt"/>
<line x1="672.60" y1="1004.00" x2="672.60" y2="1012.00" stroke="#000" stroke-width="1.9" stroke-linecap="butt"/>
<text x="398.68" y="1008.20" font-size="10.6" style="font-weight:bold;stroke:#000;stroke-width:0.25px;" fill="#000" textLength="5.42" lengthAdjust="spacingAndGlyphs">0</text>
<text x="392.77" y="968.28" font-size="10.6" style="font-weight:bold;stroke:#000;stroke-width:0.25px;" fill="#000" textLength="10.85" lengthAdjust="spacingAndGlyphs">20</text>
<text x="392.77" y="928.36" font-size="10.6" style="font-weight:bold;stroke:#000;stroke-width:0.25px;" fill="#000" textLength="10.85" lengthAdjust="spacingAndGlyphs">40</text>
<text x="392.77" y="888.44" font-size="10.6" style="font-weight:bold;stroke:#000;stroke-width:0.25px;" fill="#000" textLength="10.85" lengthAdjust="spacingAndGlyphs">60</text>
<text x="392.77" y="848.52" font-size="10.6" style="font-weight:bold;stroke:#000;stroke-width:0.25px;" fill="#000" textLength="10.85" lengthAdjust="spacingAndGlyphs">80</text>
<text x="387.35" y="808.60" font-size="10.6" style="font-weight:bold;stroke:#000;stroke-width:0.25px;" fill="#000" textLength="16.27" lengthAdjust="spacingAndGlyphs">100</text>
<text x="412.75" y="1025.60" font-size="10.6" style="font-weight:bold;stroke:#000;stroke-width:0.25px;" fill="#000" textLength="5.31" lengthAdjust="spacingAndGlyphs">0</text>
<text x="464.10" y="1025.60" font-size="10.6" style="font-weight:bold;stroke:#000;stroke-width:0.25px;" fill="#000" textLength="5.31" lengthAdjust="spacingAndGlyphs">2</text>
<text x="515.34" y="1025.60" font-size="10.6" style="font-weight:bold;stroke:#000;stroke-width:0.25px;" fill="#000" textLength="5.31" lengthAdjust="spacingAndGlyphs">4</text>
<text x="566.71" y="1025.60" font-size="10.6" style="font-weight:bold;stroke:#000;stroke-width:0.25px;" fill="#000" textLength="5.31" lengthAdjust="spacingAndGlyphs">6</text>
<text x="618.03" y="1025.60" font-size="10.6" style="font-weight:bold;stroke:#000;stroke-width:0.25px;" fill="#000" textLength="5.31" lengthAdjust="spacingAndGlyphs">8</text>
<text x="667.01" y="1025.60" font-size="10.6" style="font-weight:bold;stroke:#000;stroke-width:0.25px;" fill="#000" textLength="10.61" lengthAdjust="spacingAndGlyphs">10</text>
<text x="527.75" y="1045.60" font-size="11.2" style="font-weight:bold;stroke:#000;stroke-width:0.25px;" fill="#000" textLength="32.73" lengthAdjust="spacingAndGlyphs">Years</text>
<text transform="translate(376.50,961.00) rotate(-90)" x="-0.47" y="0" font-size="10.8" style="font-weight:bold;stroke:#000;stroke-width:0.25px;" fill="#000" textLength="109.53" lengthAdjust="spacingAndGlyphs">Overall Survival (%)</text>
<polyline points="416.00,804.40 420.50,804.40 420.50,805.00 425.00,805.00 442.00,805.00 442.00,805.60 459.00,805.60 464.50,805.60 464.50,806.00 470.00,806.00 470.50,806.00 470.50,806.60 471.00,806.60 475.50,806.60 475.50,807.00 480.00,807.00 486.00,807.00 488.00,807.00 488.00,809.40 490.00,809.40 494.00,809.40 494.00,810.40 498.00,810.40 508.00,810.40 508.00,810.60 518.00,810.60 519.50,810.60 519.50,812.40 521.00,812.40 547.00,812.40 548.50,812.40 548.50,815.60 550.00,815.60 554.00,815.60 554.00,817.00 558.00,817.00 562.00,817.00 562.00,818.40 566.00,818.40 572.00,818.40 572.00,819.00 578.00,819.00 582.00,819.00 582.00,821.40 586.00,821.40 619.00,821.40 620.00,821.40 620.00,825.00 621.00,825.00 631.00,825.00 631.00,826.00 641.00,826.00 642.00,826.00 642.00,827.40 643.00,827.40 647.00,827.40 647.00,828.00 651.00,828.00 651.50,828.00 651.50,829.00 652.00,829.00 670.00,829.00 670.80,829.00 670.80,832.00 671.60,832.00" fill="none" stroke="#008000" stroke-width="2.0" stroke-linejoin="miter" stroke-linecap="butt"/>
<polyline points="416.00,804.40 419.50,804.40 419.50,807.00 423.00,807.00 426.00,807.00 426.00,808.00 429.00,808.00 432.00,808.00 432.00,811.00 435.00,811.00 438.00,811.00 438.00,813.00 441.00,813.00 442.00,813.00 442.00,815.00 443.00,815.00 445.00,815.00 445.00,816.40 447.00,816.40 449.00,816.40 449.00,817.60 451.00,817.60 451.50,817.60 451.50,823.00 452.00,823.00 454.50,823.00 454.50,825.00 457.00,825.00 461.00,825.00 461.00,826.40 465.00,826.40 467.00,826.40 467.00,829.00 469.00,829.00 470.50,829.00 470.50,832.00 472.00,832.00 472.50,832.00 472.50,835.00 473.00,835.00 481.50,835.00 481.50,835.40 490.00,835.40 490.50,835.40 490.50,837.00 491.00,837.00 499.00,837.00 499.00,837.40 507.00,837.40 509.50,837.40 509.50,840.00 512.00,840.00 520.50,840.00 520.50,840.40 529.00,840.40 529.50,840.40 529.50,843.00 530.00,843.00 531.50,843.00 531.50,845.00 533.00,845.00 534.00,845.00 534.00,848.40 535.00,848.40 540.00,848.40 540.00,849.00 545.00,849.00 548.50,849.00 548.50,852.00 552.00,852.00 555.00,852.00 555.00,855.00 558.00,855.00 561.50,855.00 561.50,856.40 565.00,856.40 565.50,856.40 565.50,857.60 566.00,857.60 578.50,857.60 578.50,858.00 591.00,858.00 591.50,858.00 591.50,861.00 592.00,861.00 593.50,861.00 593.50,866.00 595.00,866.00 597.50,866.00 597.50,869.60 600.00,869.60 603.50,869.60 603.50,870.00 607.00,870.00 672.60,870.00" fill="none" stroke="#ff0000" stroke-width="2.0" stroke-linejoin="miter" stroke-linecap="butt"/>
<line x1="436.00" y1="924.40" x2="458.60" y2="924.40" stroke="#ff0000" stroke-width="2.0" stroke-linecap="butt"/>
<line x1="436.00" y1="946.00" x2="458.60" y2="946.00" stroke="#008000" stroke-width="2.0" stroke-linecap="butt"/>
<text x="471.08" y="928.30" font-size="10.6" style="stroke:#231f20;stroke-width:0.15px;" fill="#231f20" textLength="117.07" lengthAdjust="spacingAndGlyphs">MCM3+/Ki67+ (n=181)</text>
<text x="471.08" y="949.70" font-size="10.6" style="stroke:#231f20;stroke-width:0.15px;" fill="#231f20" textLength="111.04" lengthAdjust="spacingAndGlyphs">MCM3-/Ki67- (n=179)</text>
<text x="564.25" y="811.00" font-size="10" style="font-style:italic;stroke:#231f20;stroke-width:0.15px;" fill="#231f20" textLength="5.56" lengthAdjust="spacingAndGlyphs">p</text>
<text x="573.42" y="811.00" font-size="10" style="stroke:#231f20;stroke-width:0.15px;" fill="#231f20" textLength="39.10" lengthAdjust="spacingAndGlyphs">&lt; 0.001</text>
<line x1="56.20" y1="1070.40" x2="56.20" y2="1259.90" stroke="#000" stroke-width="1.8" stroke-linecap="butt"/>
<line x1="55.30" y1="1259.00" x2="322.90" y2="1259.00" stroke="#000" stroke-width="1.8" stroke-linecap="butt"/>
<line x1="49.60" y1="1259.00" x2="56.20" y2="1259.00" stroke="#000" stroke-width="1.8" stroke-linecap="butt"/>
<line x1="49.60" y1="1221.28" x2="56.20" y2="1221.28" stroke="#000" stroke-width="1.8" stroke-linecap="butt"/>
<line x1="49.60" y1="1183.56" x2="56.20" y2="1183.56" stroke="#000" stroke-width="1.8" stroke-linecap="butt"/>
<line x1="49.60" y1="1145.84" x2="56.20" y2="1145.84" stroke="#000" stroke-width="1.8" stroke-linecap="butt"/>
<line x1="49.60" y1="1108.12" x2="56.20" y2="1108.12" stroke="#000" stroke-width="1.8" stroke-linecap="butt"/>
<line x1="49.60" y1="1070.40" x2="56.20" y2="1070.40" stroke="#000" stroke-width="1.8" stroke-linecap="butt"/>
<line x1="56.20" y1="1259.00" x2="56.20" y2="1265.00" stroke="#000" stroke-width="1.8" stroke-linecap="butt"/>
<line x1="109.08" y1="1259.00" x2="109.08" y2="1265.00" stroke="#000" stroke-width="1.8" stroke-linecap="butt"/>
<line x1="161.96" y1="1259.00" x2="161.96" y2="1265.00" stroke="#000" stroke-width="1.8" stroke-linecap="butt"/>
<line x1="214.84" y1="1259.00" x2="214.84" y2="1265.00" stroke="#000" stroke-width="1.8" stroke-linecap="butt"/>
<line x1="267.72" y1="1259.00" x2="267.72" y2="1265.00" stroke="#000" stroke-width="1.8" stroke-linecap="butt"/>
<line x1="320.60" y1="1259.00" x2="320.60" y2="1265.00" stroke="#000" stroke-width="1.8" stroke-linecap="butt"/>
<text x="37.62" y="1264.60" font-size="10.8" style="font-weight:bold;stroke:#000;stroke-width:0.25px;" fill="#000" textLength="6.52" lengthAdjust="spacing">0</text>
<text x="30.03" y="1226.88" font-size="10.8" style="font-weight:bold;stroke:#000;stroke-width:0.25px;" fill="#000" textLength="13.13" lengthAdjust="spacing">20</text>
<text x="30.00" y="1189.16" font-size="10.8" style="font-weight:bold;stroke:#000;stroke-width:0.25px;" fill="#000" textLength="13.15" lengthAdjust="spacing">40</text>
<text x="30.03" y="1151.44" font-size="10.8" style="font-weight:bold;stroke:#000;stroke-width:0.25px;" fill="#000" textLength="13.13" lengthAdjust="spacing">60</text>
<text x="30.02" y="1113.72" font-size="10.8" style="font-weight:bold;stroke:#000;stroke-width:0.25px;" fill="#000" textLength="13.14" lengthAdjust="spacing">80</text>
<text x="20.46" y="1076.00" font-size="10.8" style="font-weight:bold;stroke:#000;stroke-width:0.25px;" fill="#000" textLength="19.71" lengthAdjust="spacing">100</text>
<text x="52.04" y="1283.40" font-size="10.4" style="font-weight:bold;stroke:#000;stroke-width:0.25px;" fill="#000" textLength="6.53" lengthAdjust="spacing">0</text>
<text x="104.95" y="1283.40" font-size="10.4" style="font-weight:bold;stroke:#000;stroke-width:0.25px;" fill="#000" textLength="6.53" lengthAdjust="spacing">2</text>
<text x="157.70" y="1283.40" font-size="10.4" style="font-weight:bold;stroke:#000;stroke-width:0.25px;" fill="#000" textLength="6.62" lengthAdjust="spacing">4</text>
<text x="210.68" y="1283.40" font-size="10.4" style="font-weight:bold;stroke:#000;stroke-width:0.25px;" fill="#000" textLength="6.54" lengthAdjust="spacing">6</text>
<text x="263.55" y="1283.40" font-size="10.4" style="font-weight:bold;stroke:#000;stroke-width:0.25px;" fill="#000" textLength="6.56" lengthAdjust="spacing">8</text>
<text x="312.44" y="1283.40" font-size="10.4" style="font-weight:bold;stroke:#000;stroke-width:0.25px;" fill="#000" textLength="13.14" lengthAdjust="spacing">10</text>
<text x="167.40" y="1292.40" font-size="10" style="font-weight:bold;stroke:#000;stroke-width:0.25px;" fill="#000" textLength="32.39" lengthAdjust="spacing">Y ears</text>
<text transform="translate(16.20,1252.50) rotate(-90) scale(0.86,1)" x="-0.70" y="0" font-size="10.8" style="font-weight:bold;stroke:#000;stroke-width:0.25px;" fill="#000" textLength="195.99" lengthAdjust="spacing">Reccurence free survival (%)</text>
<polyline points="56.20,1070.40 62.10,1070.40 62.10,1071.00 68.00,1071.00 72.00,1071.00 72.00,1074.60 76.00,1074.60 79.00,1074.60 79.00,1076.60 82.00,1076.60 85.00,1076.60 85.00,1079.40 88.00,1079.40 91.00,1079.40 91.00,1081.00 94.00,1081.00 99.00,1081.00 99.00,1083.00 104.00,1083.00 108.00,1083.00 108.00,1086.00 112.00,1086.00 114.00,1086.00 114.00,1088.50 118.00,1088.50 118.00,1091.00 120.00,1091.00 123.00,1091.00 123.00,1094.00 126.00,1094.00 129.00,1094.00 129.00,1097.00 132.00,1097.00 134.00,1097.00 134.00,1098.00 136.00,1098.00 137.50,1098.00 137.50,1101.60 139.00,1101.60 144.50,1101.60 144.50,1103.60 150.00,1103.60 155.00,1103.60 155.00,1105.60 160.00,1105.60 161.00,1105.60 161.00,1108.40 162.00,1108.40 166.00,1108.40 166.00,1110.40 170.00,1110.40 175.00,1110.40 175.00,1113.00 180.00,1113.00 184.00,1113.00 184.00,1117.00 188.00,1117.00 191.00,1117.00 191.00,1120.00 194.00,1120.00 198.00,1120.00 198.00,1121.60 202.00,1121.60 207.00,1121.60 207.00,1122.40 212.00,1122.40 214.50,1122.40 214.50,1124.40 217.00,1124.40 221.50,1124.40 221.50,1125.00 226.00,1125.00 231.00,1125.00 231.00,1126.40 236.00,1126.40 238.00,1126.40 238.00,1128.40 240.00,1128.40 248.00,1128.40 248.00,1129.00 256.00,1129.00 261.00,1129.00 261.00,1130.00 266.00,1130.00 278.00,1130.00 278.00,1130.40 290.00,1130.40 293.00,1130.40 293.00,1132.00 296.00,1132.00 296.50,1132.00 296.50,1134.40 297.00,1134.40 303.50,1134.40 303.50,1135.00 310.00,1135.00 311.00,1135.00 311.00,1135.60 312.00,1135.60 321.00,1135.60" fill="none" stroke="#008000" stroke-width="1.9" stroke-linejoin="miter" stroke-linecap="butt"/>
<polyline points="56.20,1070.40 62.10,1070.40 62.10,1071.00 68.00,1071.00 70.00,1071.00 70.00,1073.00 72.00,1073.00 74.00,1073.00 74.00,1076.00 76.00,1076.00 78.00,1076.00 78.00,1077.40 80.00,1077.40 83.00,1077.40 83.00,1078.00 86.00,1078.00 87.00,1078.00 87.00,1081.00 88.00,1081.00 91.00,1081.00 91.00,1084.00 94.00,1084.00 96.00,1084.00 96.00,1088.00 98.00,1088.00 101.00,1088.00 101.00,1090.60 104.00,1090.60 107.00,1090.60 107.00,1093.00 110.00,1093.00 113.00,1093.00 113.00,1096.00 116.00,1096.00 117.50,1096.00 117.50,1098.50 120.50,1098.50 120.50,1101.00 122.00,1101.00 126.00,1101.00 126.00,1105.00 130.00,1105.00 134.00,1105.00 134.00,1109.00 138.00,1109.00 142.00,1109.00 142.00,1112.00 146.00,1112.00 150.00,1112.00 150.00,1114.00 154.00,1114.00 158.00,1114.00 158.00,1115.60 162.00,1115.60 165.00,1115.60 165.00,1118.40 168.00,1118.40 172.00,1118.40 172.00,1120.00 176.00,1120.00 180.00,1120.00 180.00,1123.00 184.00,1123.00 188.00,1123.00 188.00,1127.00 192.00,1127.00 199.00,1127.00 199.00,1128.00 206.00,1128.00 208.00,1128.00 208.00,1130.00 210.00,1130.00 212.00,1130.00 212.00,1132.40 214.00,1132.40 219.00,1132.40 219.00,1134.00 224.00,1134.00 225.00,1134.00 225.00,1135.60 226.00,1135.60 230.00,1135.60 230.00,1137.50 234.00,1137.50 251.00,1137.50 251.00,1137.60 268.00,1137.60 269.00,1137.60 269.00,1138.60 270.00,1138.60 275.00,1138.60 275.00,1139.00 280.00,1139.00 281.50,1139.00 281.50,1141.00 283.00,1141.00 296.50,1141.00 296.50,1141.40 310.00,1141.40 311.00,1141.40 311.00,1142.40 312.00,1142.40 321.00,1142.40" fill="none" stroke="#ff0000" stroke-width="1.9" stroke-linejoin="miter" stroke-linecap="butt"/>
<line x1="76.00" y1="1173.40" x2="101.40" y2="1173.40" stroke="#ff0000" stroke-width="2.0" stroke-linecap="butt"/>
<line x1="76.00" y1="1193.40" x2="101.40" y2="1193.40" stroke="#008000" stroke-width="2.0" stroke-linecap="butt"/>
<text x="113.16" y="1179.40" font-size="10.7" style="stroke:#231f20;stroke-width:0.15px;" fill="#231f20" textLength="76.48" lengthAdjust="spacingAndGlyphs">MCM3+ (n=251)</text>
<text x="113.16" y="1199.40" font-size="10.7" style="stroke:#231f20;stroke-width:0.15px;" fill="#231f20" textLength="73.52" lengthAdjust="spacingAndGlyphs">MCM3- (n=252)</text>
<text x="219.85" y="1106.40" font-size="10" style="font-style:italic;stroke:#231f20;stroke-width:0.15px;" fill="#231f20" textLength="5.56" lengthAdjust="spacingAndGlyphs">p</text>
<text x="228.00" y="1106.40" font-size="10" style="stroke:#231f20;stroke-width:0.15px;" fill="#231f20" textLength="28.82" lengthAdjust="spacing">= 0.3</text>
<line x1="415.80" y1="1074.80" x2="415.80" y2="1260.50" stroke="#000" stroke-width="1.8" stroke-linecap="butt"/>
<line x1="414.90" y1="1259.60" x2="681.10" y2="1259.60" stroke="#000" stroke-width="1.8" stroke-linecap="butt"/>
<line x1="408.80" y1="1259.60" x2="415.80" y2="1259.60" stroke="#000" stroke-width="1.8" stroke-linecap="butt"/>
<line x1="408.80" y1="1222.64" x2="415.80" y2="1222.64" stroke="#000" stroke-width="1.8" stroke-linecap="butt"/>
<line x1="408.80" y1="1185.68" x2="415.80" y2="1185.68" stroke="#000" stroke-width="1.8" stroke-linecap="butt"/>
<line x1="408.80" y1="1148.72" x2="415.80" y2="1148.72" stroke="#000" stroke-width="1.8" stroke-linecap="butt"/>
<line x1="408.80" y1="1111.76" x2="415.80" y2="1111.76" stroke="#000" stroke-width="1.8" stroke-linecap="butt"/>
<line x1="408.80" y1="1074.80" x2="415.80" y2="1074.80" stroke="#000" stroke-width="1.8" stroke-linecap="butt"/>
<line x1="415.80" y1="1259.60" x2="415.80" y2="1265.60" stroke="#000" stroke-width="1.8" stroke-linecap="butt"/>
<line x1="468.68" y1="1259.60" x2="468.68" y2="1265.60" stroke="#000" stroke-width="1.8" stroke-linecap="butt"/>
<line x1="521.56" y1="1259.60" x2="521.56" y2="1265.60" stroke="#000" stroke-width="1.8" stroke-linecap="butt"/>
<line x1="574.44" y1="1259.60" x2="574.44" y2="1265.60" stroke="#000" stroke-width="1.8" stroke-linecap="butt"/>
<line x1="627.32" y1="1259.60" x2="627.32" y2="1265.60" stroke="#000" stroke-width="1.8" stroke-linecap="butt"/>
<line x1="680.20" y1="1259.60" x2="680.20" y2="1265.60" stroke="#000" stroke-width="1.8" stroke-linecap="butt"/>
<text x="397.14" y="1265.00" font-size="10.6" style="font-weight:bold;stroke:#000;stroke-width:0.25px;" fill="#000" textLength="6.40" lengthAdjust="spacing">0</text>
<text x="389.76" y="1228.04" font-size="10.6" style="font-weight:bold;stroke:#000;stroke-width:0.25px;" fill="#000" textLength="12.89" lengthAdjust="spacing">20</text>
<text x="389.74" y="1191.08" font-size="10.6" style="font-weight:bold;stroke:#000;stroke-width:0.25px;" fill="#000" textLength="12.91" lengthAdjust="spacing">40</text>
<text x="389.76" y="1154.12" font-size="10.6" style="font-weight:bold;stroke:#000;stroke-width:0.25px;" fill="#000" textLength="12.89" lengthAdjust="spacing">60</text>
<text x="389.76" y="1117.16" font-size="10.6" style="font-weight:bold;stroke:#000;stroke-width:0.25px;" fill="#000" textLength="12.89" lengthAdjust="spacing">80</text>
<text x="380.22" y="1080.20" font-size="10.6" style="font-weight:bold;stroke:#000;stroke-width:0.25px;" fill="#000" textLength="19.35" lengthAdjust="spacing">100</text>
<text x="411.64" y="1284.00" font-size="10.4" style="font-weight:bold;stroke:#000;stroke-width:0.25px;" fill="#000" textLength="6.53" lengthAdjust="spacing">0</text>
<text x="464.55" y="1284.00" font-size="10.4" style="font-weight:bold;stroke:#000;stroke-width:0.25px;" fill="#000" textLength="6.53" lengthAdjust="spacing">2</text>
<text x="517.30" y="1284.00" font-size="10.4" style="font-weight:bold;stroke:#000;stroke-width:0.25px;" fill="#000" textLength="6.62" lengthAdjust="spacing">4</text>
<text x="570.28" y="1284.00" font-size="10.4" style="font-weight:bold;stroke:#000;stroke-width:0.25px;" fill="#000" textLength="6.54" lengthAdjust="spacing">6</text>
<text x="623.15" y="1284.00" font-size="10.4" style="font-weight:bold;stroke:#000;stroke-width:0.25px;" fill="#000" textLength="6.56" lengthAdjust="spacing">8</text>
<text x="672.04" y="1284.00" font-size="10.4" style="font-weight:bold;stroke:#000;stroke-width:0.25px;" fill="#000" textLength="13.14" lengthAdjust="spacing">10</text>
<text x="526.80" y="1295.30" font-size="10" style="font-weight:bold;stroke:#000;stroke-width:0.25px;" fill="#000" textLength="32.59" lengthAdjust="spacing">Y ears</text>
<text transform="translate(371.00,1196.70) rotate(-90)" x="-0.43" y="0" font-size="10.7" style="font-weight:bold;stroke:#000;stroke-width:0.25px;" fill="#000" textLength="95.14" lengthAdjust="spacingAndGlyphs">Oveall survival (%)</text>
<polyline points="416.00,1071.40 472.00,1071.40 472.50,1071.40 472.50,1072.20 473.00,1072.20 490.00,1072.20 491.00,1072.20 491.00,1075.00 492.00,1075.00 510.00,1075.00 510.50,1075.00 510.50,1077.00 511.00,1077.00 530.00,1077.00 531.00,1077.00 531.00,1079.00 532.00,1079.00 535.50,1079.00 535.50,1080.00 539.00,1080.00 540.00,1080.00 540.00,1082.40 541.00,1082.40 544.50,1082.40 544.50,1083.00 548.00,1083.00 551.00,1083.00 551.00,1083.40 554.00,1083.40 554.50,1083.40 554.50,1086.40 555.00,1086.40 557.50,1086.40 557.50,1087.00 560.00,1087.00 560.50,1087.00 560.50,1088.00 561.00,1088.00 570.00,1088.00 570.50,1088.00 570.50,1090.00 571.00,1090.00 591.00,1090.00 592.00,1090.00 592.00,1093.00 593.00,1093.00 595.50,1093.00 595.50,1094.00 598.00,1094.00 601.50,1094.00 601.50,1096.00 605.00,1096.00 608.00,1096.00 608.00,1098.00 611.00,1098.00 634.00,1098.00 634.20,1098.00 634.20,1102.00 634.40,1102.00 645.70,1102.00 645.70,1102.40 657.00,1102.40 657.50,1102.40 657.50,1104.00 658.00,1104.00 680.00,1104.00 680.20,1104.00 680.20,1106.00 680.40,1106.00" fill="none" stroke="#ff0000" stroke-width="1.5" stroke-linejoin="miter" stroke-linecap="butt"/>
<polyline points="416.00,1075.00 489.00,1075.00 499.00,1075.00 499.00,1075.40 509.00,1075.40 510.00,1075.40 510.00,1077.40 511.00,1077.40 515.50,1077.40 515.50,1078.00 520.00,1078.00 521.50,1078.00 521.50,1080.40 523.00,1080.40 526.50,1080.40 526.50,1080.60 530.00,1080.60 535.00,1080.60 535.00,1081.40 540.00,1081.40 544.00,1081.40 544.00,1084.40 548.00,1084.40 558.00,1084.40 558.00,1085.40 568.00,1085.40 569.00,1085.40 569.00,1086.60 570.00,1086.60 582.00,1086.60 582.00,1087.00 594.00,1087.00 594.50,1087.00 594.50,1088.00 595.00,1088.00 626.00,1088.00 628.00,1088.00 628.00,1091.00 630.00,1091.00 639.00,1091.00 639.00,1091.60 648.00,1091.60 650.00,1091.60 650.00,1093.40 652.00,1093.40 654.50,1093.40 654.50,1095.00 657.00,1095.00 657.30,1095.00 657.30,1096.60 657.60,1096.60 677.00,1096.60 678.50,1096.60 678.50,1100.60 680.00,1100.60 680.20,1100.60 680.20,1103.00 680.40,1103.00" fill="none" stroke="#008000" stroke-width="1.5" stroke-linejoin="miter" stroke-linecap="butt"/>
<line x1="441.00" y1="1167.60" x2="466.00" y2="1167.60" stroke="#ff0000" stroke-width="2.0" stroke-linecap="butt"/>
<line x1="441.00" y1="1185.00" x2="466.00" y2="1185.00" stroke="#008000" stroke-width="2.0" stroke-linecap="butt"/>
<text x="478.16" y="1173.40" font-size="10.7" style="stroke:#231f20;stroke-width:0.15px;" fill="#231f20" textLength="76.48" lengthAdjust="spacingAndGlyphs">MCM3+ (n=125)</text>
<text x="478.15" y="1190.40" font-size="10.7" style="stroke:#231f20;stroke-width:0.15px;" fill="#231f20" textLength="74.54" lengthAdjust="spacingAndGlyphs">MCM3- (n=125)</text>
<text x="563.25" y="1073.60" font-size="10" style="font-style:italic;stroke:#231f20;stroke-width:0.15px;" fill="#231f20" textLength="5.56" lengthAdjust="spacingAndGlyphs">p</text>
<text x="576.00" y="1073.60" font-size="10" style="stroke:#231f20;stroke-width:0.15px;" fill="#231f20" textLength="33.83" lengthAdjust="spacing">= 0.38</text>
</g>
</svg>
</body></html>
